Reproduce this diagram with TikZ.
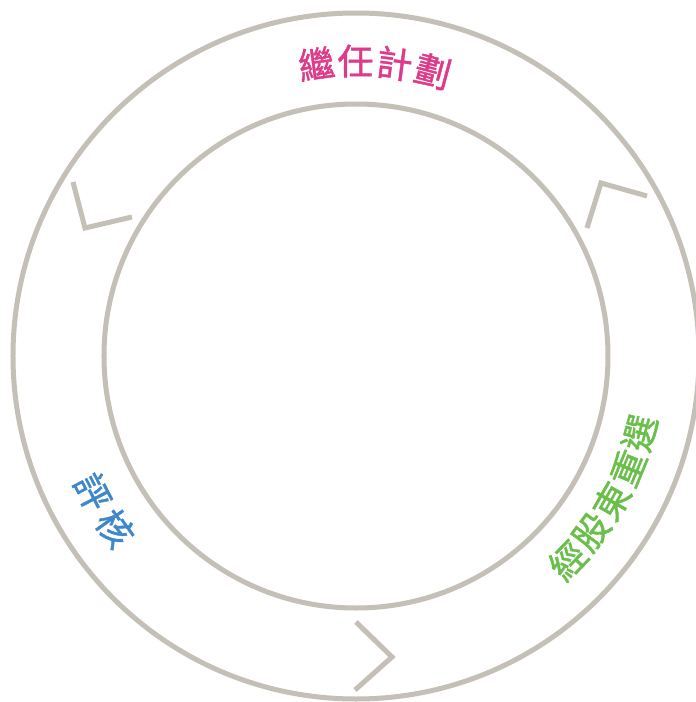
\documentclass[tikz,border=0pt]{standalone}
\usepackage{fontspec}
\newfontfamily\cjk[FakeBold=1.2]{Noto Sans CJK TC}
\definecolor{ringgray}{RGB}{196,191,183}
\definecolor{tpink}{RGB}{222,58,138}
\definecolor{tgreen}{RGB}{106,191,75}
\definecolor{tblue}{RGB}{62,135,203}
\tikzset{
  ring/.style={draw=ringgray, line width=5pt},
  chev/.style={draw=ringgray, line width=5pt, miter limit=10},
  ch/.style={inner sep=0pt, font=\cjk\fontsize{36}{36}\selectfont},
}
\begin{document}
\begin{tikzpicture}[x=1pt,y=1pt]
\useasboundingbox (-356,-346) rectangle (340,356);
\fill[white] (-356,-346) rectangle (340,356);
\draw[ring] (0,0) circle (343);
\draw[ring] (0,0) circle (252);
% chevrons
\draw[chev] (-283,174) -- (-271,128) -- (-224,139);
\draw[chev] (231,128) -- (245,173) -- (291,160);
\draw[chev] (0,-266) -- (36,-301) -- (-1,-334);
% top text
\foreach \a/\c/\n in {97.7/繼/p1, 90.1/任/p2, 82.5/計/p3, 74.9/劃/p4}
  \node[ch, text=tpink, rotate=\a-90] (\n) at (\a:295) {\c};
% right text
\foreach \a/\c/\n in {-44/經/g1, -36.8/股/g2, -29.6/東/g3, -22.4/重/g4, -15.2/選/g5}
  \node[ch, text=tgreen, rotate=\a+90] (\n) at (\a:294) {\c};
% left text
\foreach \a/\c/\n in {207.3/評/b1, 215.6/核/b2}
  \node[ch, text=tblue, rotate=\a+90] (\n) at (\a:296) {\c};
\end{tikzpicture}
\end{document}
